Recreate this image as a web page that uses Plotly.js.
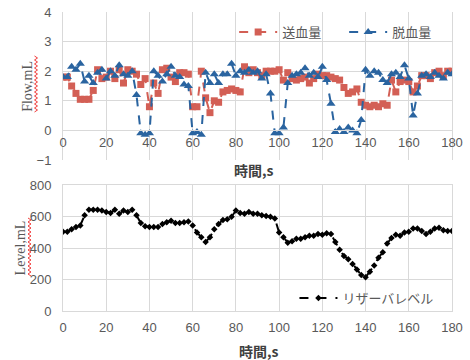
<!DOCTYPE html>
<html>
<head>
<meta charset="utf-8">
<script src="https://cdn.plot.ly/plotly-3.0.1.min.js"></script>
<style>html,body{margin:0;padding:0;background:#fff;}#chart{width:470px;height:360px;}</style>
</head>
<body>
<div id="chart"></div>
<script>
var time = [0,2,4,6,8,10,12,14,16,18,20,22,24,26,28,30,32,34,36,38,40,42,44,46,48,50,52,54,56,58,60,62,64,66,68,70,72,74,76,78,80,82,84,86,88,90,92,94,96,98,100,102,104,106,108,110,112,114,116,118,120,122,124,126,128,130,132,134,136,138,140,142,144,146,148,150,152,154,156,158,160,162,164,166,168,170,172,174,176,178,180];

var supplyFlow = [1.8,1.8,1.5,1.25,1.05,1.05,1.05,1.35,2.05,1.75,1.8,2.0,1.75,2.05,1.6,2.05,2.0,1.9,1.55,1.75,0.8,1.6,1.25,2.05,2.1,1.8,1.65,1.95,1.95,1.9,0.8,0.8,2.0,1.1,0.6,1.0,0.95,1.3,1.35,1.4,1.35,1.3,2.15,1.95,2.05,1.95,1.85,2.0,2.0,2.0,2.05,1.7,1.95,1.75,1.7,1.75,1.8,1.6,1.75,1.9,1.85,1.85,1.8,1.75,1.7,1.45,1.25,1.3,1.4,0.95,0.85,0.8,0.85,0.8,0.9,0.85,1.7,1.3,1.65,1.7,1.65,1.3,1.5,1.85,1.85,1.75,1.95,2.0,1.85,2.0,2.0];

var drainFlow = [1.8,1.8,2.15,2.05,2.25,1.65,1.85,1.6,1.95,2.05,1.75,2.0,1.85,2.2,1.9,1.85,2.0,1.2,-0.1,-0.15,-0.1,2.0,1.85,1.65,1.9,2.15,1.85,1.8,1.55,1.5,-0.1,-0.05,-0.15,1.95,1.6,1.9,1.6,1.9,1.9,2.25,1.85,2.0,1.95,2.05,1.95,2.0,1.75,1.9,1.25,-0.1,-0.1,0.1,1.6,1.85,1.9,1.95,2.1,1.85,1.95,1.8,2.15,1.7,0.9,-0.05,0.05,-0.05,0.1,0.0,-0.1,0.35,2.05,1.85,2.0,1.95,1.7,1.6,1.9,1.95,1.8,2.2,1.75,0.5,1.25,1.85,1.9,1.8,1.95,1.85,1.75,1.95,1.9];

var reservoirLevel = [505,505,520,535,545,610,645,645,645,640,630,625,645,620,640,630,645,610,560,540,535,535,535,555,565,575,560,560,565,570,545,500,470,440,470,520,555,580,585,600,640,625,620,630,620,620,610,605,600,590,500,470,435,445,460,460,470,480,480,490,485,495,490,440,390,350,330,300,265,230,215,250,290,340,375,430,465,485,480,500,505,525,525,510,490,505,525,530,515,510,510];

var xTicks = [0,20,40,60,80,100,120,140,160,180];
var seriesNames = ['送血量','脱血量','リザーバレベル'];
var yTitles = ['Flow,mL','Level,mL'];
var xTitle = '時間,s';

var grid = '#D9D9D9';
var tickFont = {family:'Liberation Sans, Arial, sans-serif', size:13, color:'#595959'};
var cjk = 'Noto Sans CJK JP, sans-serif';

var traces = [
  {x: time, y: supplyFlow, name: seriesNames[0], type:'scatter', mode:'lines+markers', xaxis:'x', yaxis:'y', legend:'legend',
   line:{color:'#D35F55', width:2, dash:'dash'}, marker:{symbol:'square', size:7, color:'#D35F55'}},
  {x: time, y: drainFlow, name: seriesNames[1], type:'scatter', mode:'lines+markers', xaxis:'x', yaxis:'y', legend:'legend',
   line:{color:'#2A64A0', width:2, dash:'dash'}, marker:{symbol:'triangle-up', size:8, color:'#2A64A0'}},
  {x: time, y: reservoirLevel, name: seriesNames[2], type:'scatter', mode:'lines+markers', xaxis:'x2', yaxis:'y2', legend:'legend2',
   line:{color:'#000000', width:2, dash:'dash'}, marker:{symbol:'diamond', size:5, color:'#000000'}}
];

var topDom = [0.505, 1];
var botDom = [0, 0.42];

// spell-check style red wavy underline beside the vertical titles (decoration)
var L = 63, W = 389, B = 311, H = 299;
function squiggle(px, pyTop, pyBot) {
  var d = '', i = 0;
  for (var py = pyTop; py <= pyBot; py += 2) {
    var xx = (px + (i % 2 ? 1.5 : -1.5) - L) / W;
    var yy = (B - py) / H;
    d += (i === 0 ? 'M' : 'L') + xx.toFixed(5) + ',' + yy.toFixed(5);
    i++;
  }
  return {type:'path', xref:'paper', yref:'paper', path:d, line:{color:'#F03C3C', width:1}};
}

var layout = {
  width:470, height:360,
  margin:{l:63, r:18, t:12, b:49},
  paper_bgcolor:'#fff', plot_bgcolor:'#fff',
  showlegend:true,
  xaxis:{domain:[0,1], range:[0,180], tickvals:xTicks, anchor:'free', position: topDom[0] + (topDom[1]-topDom[0])*0.2,
         showgrid:true, gridcolor:grid, gridwidth:1, zeroline:false, showline:true, linecolor:grid, linewidth:1,
         ticks:'', tickfont:tickFont, fixedrange:true},
  yaxis:{domain:topDom, range:[-1,4], dtick:1, showgrid:true, gridcolor:grid, zeroline:false,
         showline:true, mirror:true, linecolor:grid, ticks:'', tickfont:tickFont, ticklabelstandoff:8},
  xaxis2:{domain:[0,1], range:[0,180], tickvals:xTicks, anchor:'y2', showgrid:true, gridcolor:grid, zeroline:false,
          showline:true, mirror:true, linecolor:grid, ticks:'', tickfont:tickFont, ticklabelstandoff:4},
  yaxis2:{domain:botDom, range:[0,800], dtick:200, anchor:'x2', showgrid:true, gridcolor:grid, zeroline:false,
          showline:true, mirror:true, linecolor:grid, ticks:'', tickfont:tickFont, ticklabelstandoff:8},
  legend:{orientation:'h', x:0.44, xanchor:'left', y:0.933, yanchor:'middle', bgcolor:'rgba(0,0,0,0)',
          font:{family:cjk, size:13, color:'#595959'}, itemwidth:38, entrywidth:57, tracegroupgap:0},
  legend2:{orientation:'h', x:0.595, xanchor:'left', y:0.043, yanchor:'middle', bgcolor:'rgba(0,0,0,0)',
          font:{family:cjk, size:13, color:'#595959'}, itemwidth:38},
  shapes:[squiggle(36, 56, 112), squiggle(29.5, 218, 277)],
  annotations:[
    {text:yTitles[0], xref:'paper', yref:'paper', x:-0.093, y:(topDom[0]+topDom[1])/2, textangle:-90, showarrow:false,
     xanchor:'center', yanchor:'middle', font:{family:'Liberation Serif, serif', size:14, color:'#595959'}},
    {text:yTitles[1], xref:'paper', yref:'paper', x:-0.11, y:(botDom[0]+botDom[1])/2, textangle:-90, showarrow:false,
     xanchor:'center', yanchor:'middle', font:{family:'Liberation Serif, serif', size:14, color:'#595959'}},
    {text:'<b>'+xTitle+'</b>', xref:'paper', yref:'paper', x:0.491, y:0.4716, showarrow:false, xanchor:'center', yanchor:'middle',
     font:{family:cjk, size:14, color:'#404040'}},
    {text:'<b>'+xTitle+'</b>', xref:'paper', yref:'paper', x:0.503, y:-0.134, showarrow:false, xanchor:'center', yanchor:'middle',
     font:{family:cjk, size:14, color:'#404040'}}
  ]
};

Plotly.newPlot('chart', traces, layout, {staticPlot:true, displayModeBar:false});
</script>
</body>
</html>
